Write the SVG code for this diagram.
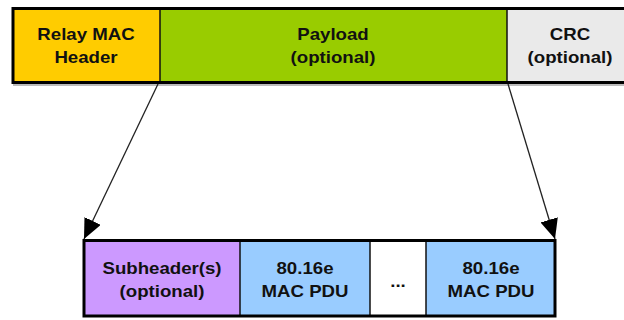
<svg xmlns="http://www.w3.org/2000/svg" width="624" height="320" viewBox="0 0 624 320">
<style>
.t{font-family:"Liberation Sans",Arial,sans-serif;font-weight:bold;font-size:16.5px;fill:#111;text-anchor:middle}
.div{stroke:#111;stroke-width:1.5}
.out{fill:none;stroke:#000;stroke-width:3}
.conn{stroke:#222;stroke-width:1.3;fill:none}
</style>
<defs>
<marker id="ah" markerUnits="userSpaceOnUse" markerWidth="20" markerHeight="18" refX="20" refY="9" orient="auto" viewBox="0 0 20 18">
<path d="M0,0 L20,9 L0,18 z" fill="#000"/>
</marker>
</defs>
<rect x="13" y="84" width="620" height="2" fill="#bbb"/>
<g id="relay-mac-header">
<rect x="13" y="8.5" width="147" height="74" fill="#FFCC00"/>
<text class="t" transform="translate(86,40) scale(1.13,1)">Relay MAC</text>
<text class="t" transform="translate(86,63) scale(1.13,1)">Header</text>
</g>
<g id="payload">
<rect x="160" y="8.5" width="347" height="74" fill="#99CC00"/>
<text class="t" transform="translate(333,40) scale(1.13,1)">Payload</text>
<text class="t" transform="translate(333,63) scale(1.13,1)">(optional)</text>
</g>
<g id="crc">
<rect x="507" y="8.5" width="130" height="74" fill="#EAEAEA"/>
<text class="t" transform="translate(570,40) scale(1.13,1)">CRC</text>
<text class="t" transform="translate(570,63) scale(1.13,1)">(optional)</text>
</g>
<line class="div" x1="160" y1="8.5" x2="160" y2="82.5"/>
<line class="div" x1="507" y1="8.5" x2="507" y2="82.5"/>
<rect class="out" x="13" y="8.5" width="640" height="74"/>
<g id="subheader">
<rect x="84" y="240.5" width="156" height="75.5" fill="#CC99FF"/>
<text class="t" transform="translate(162,274) scale(1.13,1)">Subheader(s)</text>
<text class="t" transform="translate(162,297) scale(1.13,1)">(optional)</text>
</g>
<g id="mac-pdu-1">
<rect x="240" y="240.5" width="130" height="75.5" fill="#99CCFF"/>
<text class="t" transform="translate(305,274) scale(1.13,1)">80.16e</text>
<text class="t" transform="translate(305,297) scale(1.13,1)">MAC PDU</text>
</g>
<g id="ellipsis">
<rect x="370" y="240.5" width="56" height="75.5" fill="#FFFFFF"/>
<text class="t" transform="translate(398,287) scale(1.13,1)">...</text>
</g>
<g id="mac-pdu-2">
<rect x="426" y="240.5" width="129" height="75.5" fill="#99CCFF"/>
<text class="t" transform="translate(491,274) scale(1.13,1)">80.16e</text>
<text class="t" transform="translate(491,297) scale(1.13,1)">MAC PDU</text>
</g>
<line class="div" x1="240" y1="240.5" x2="240" y2="316"/>
<line class="div" x1="370" y1="240.5" x2="370" y2="316"/>
<line class="div" x1="426" y1="240.5" x2="426" y2="316"/>
<rect class="out" x="84" y="240.5" width="471" height="75.5"/>
<g id="connectors">
<line class="conn" x1="158" y1="84" x2="84" y2="239" marker-end="url(#ah)"/>
<line class="conn" x1="508" y1="84" x2="555" y2="239" marker-end="url(#ah)"/>
</g>
</svg>
